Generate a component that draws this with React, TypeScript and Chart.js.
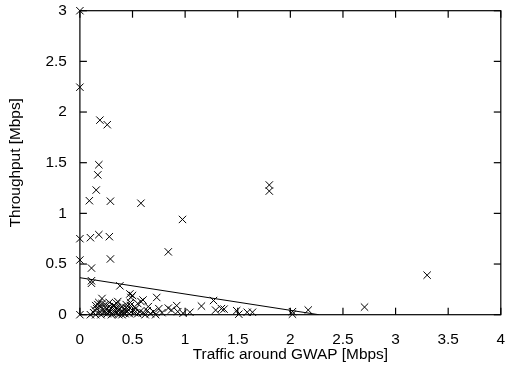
import React, { useEffect, useRef } from "react";
import { Chart, registerables } from "chart.js";

Chart.register(...registerables);

const traffic: number[] = [
  0, 0, 0.19, 0.26, 0.18, 0.17, 0.155, 0.09, 0.29, 0.58, 0.975, 1.8, 1.8,
  0, 0.1, 0.18, 0.28, 0.84, 0, 0.29, 0.11, 0.11, 0.11, 0.38, 0.475, 0.5,
  0.485, 0.73, 0.21, 0.58, 1.27, 1.155, 0.92, 1.29, 1.345, 1.37, 1.49, 1.51,
  1.59, 1.64, 2.02, 2.02, 2.17, 2.705, 3.3, 0, 0.87, 0.93, 0.98, 1.045, 0.75,
  0.84, 0.6, 0.14,
  0.15, 0.17, 0.16, 0.19, 0.2, 0.22, 0.23, 0.24, 0.25, 0.26, 0.27, 0.28, 0.29,
  0.3, 0.31, 0.32, 0.33, 0.34, 0.35, 0.36, 0.37, 0.38, 0.39, 0.4, 0.41, 0.42,
  0.43, 0.44, 0.45, 0.46, 0.47, 0.48, 0.5, 0.52, 0.53, 0.55, 0.57, 0.6, 0.62,
  0.64, 0.67, 0.7, 0.72, 0.78, 0.18, 0.13, 0.21, 0.35, 0.44, 0.48, 0.4, 0.3,
  0.2, 0.1, 0.15, 0.65, 0.55, 0.36, 0.28, 0.33,
];

const throughput: number[] = [
  3.0, 2.245, 1.92, 1.875, 1.48, 1.38, 1.23, 1.125, 1.12, 1.1, 0.94, 1.28, 1.22,
  0.75, 0.76, 0.79, 0.77, 0.62, 0.54, 0.55, 0.46, 0.335, 0.31, 0.285, 0.205, 0.19,
  0.17, 0.17, 0.16, 0.13, 0.14, 0.085, 0.09, 0.045, 0.06, 0.055, 0.04, 0.005,
  0.024, 0.024, 0.03, 0.005, 0.046, 0.075, 0.39, 0, 0.046, 0.03, 0.014, 0.024, 0.06,
  0.065, 0.145, 0.046,
  0.09, 0.1, 0.06, 0.03, 0.08, 0.05, 0.02, 0.1, 0.06, 0.01, 0.04, 0.08, 0.03,
  0.06, 0.01, 0.09, 0.05, 0.02, 0.07, 0.04, 0.0, 0.06, 0.03, 0.08, 0.02, 0.05,
  0.01, 0.07, 0.03, 0.05, 0.01, 0.09, 0.04, 0.02, 0.06, 0.01, 0.03, 0.02, 0.0,
  0.04, 0.01, 0.03, 0.0, 0.02, 0.12, 0.02, 0.11, 0.11, 0.1, 0.12, 0.0, 0.0,
  0.0, 0.0, 0.0, 0.08, 0.11, 0.13, 0.12, 0.03,
];

const fitX: number[] = [0, 2.27];
const fitY: number[] = [0.365, 0];

const xTicks: number[] = [0, 0.5, 1, 1.5, 2, 2.5, 3, 3.5, 4];
const yTicks: number[] = [0, 0.5, 1, 1.5, 2, 2.5, 3];

const FONT = "'Liberation Sans', Arial, Helvetica, sans-serif";
const FS = 15.4;

const frameTicks = {
  id: "frameTicks",
  afterDraw(chart: any) {
    const ctx: CanvasRenderingContext2D = chart.ctx;
    const area = chart.chartArea;
    const xs = chart.scales.x;
    const ys = chart.scales.y;
    const len = 7;
    ctx.save();
    ctx.strokeStyle = "#000";
    ctx.lineWidth = 1.2;
    for (let i = 0; i < xTicks.length; i++) {
      const px = xs.getPixelForValue(xTicks[i]);
      ctx.beginPath();
      ctx.moveTo(px, area.bottom);
      ctx.lineTo(px, area.bottom - len);
      ctx.stroke();
      ctx.beginPath();
      ctx.moveTo(px, area.top);
      ctx.lineTo(px, area.top + len);
      ctx.stroke();
    }
    for (let i = 0; i < yTicks.length; i++) {
      const py = ys.getPixelForValue(yTicks[i]);
      ctx.beginPath();
      ctx.moveTo(area.left, py);
      ctx.lineTo(area.left + len, py);
      ctx.stroke();
      ctx.beginPath();
      ctx.moveTo(area.right, py);
      ctx.lineTo(area.right - len, py);
      ctx.stroke();
    }
    ctx.strokeRect(area.left, area.top, area.right - area.left, area.bottom - area.top);
    ctx.restore();
  },
};

export default function App() {
  const ref = useRef<HTMLCanvasElement | null>(null);

  useEffect(() => {
    if (!ref.current) return;
    const points = traffic.map((x, i) => ({ x, y: throughput[i] }));
    const fit = fitX.map((x, i) => ({ x, y: fitY[i] }));
    const chart = new Chart(ref.current, {
      type: "scatter",
      data: {
        datasets: [
          {
            data: points,
            pointStyle: "crossRot",
            radius: 5.2,
            borderColor: "#000",
            backgroundColor: "#000",
            borderWidth: 1,
            showLine: false,
            clip: false,
          },
          {
            data: fit,
            showLine: true,
            pointRadius: 0,
            borderColor: "#000",
            borderWidth: 1,
          },
        ],
      },
      options: {
        animation: false,
        responsive: false,
        events: [],
        layout: { padding: { left: 0, right: 5.4, top: 10.7, bottom: 0 } },
        plugins: {
          legend: { display: false },
          tooltip: { enabled: false },
        },
        scales: {
          x: {
            type: "linear",
            min: 0,
            max: 4,
            afterBuildTicks: (s: any) => {
              s.ticks = xTicks.map((v) => ({ value: v }));
            },
            afterFit: (s: any) => {
              s.height = 50.3;
              s.paddingLeft = 0;
              s.paddingRight = 0;
            },
            grid: { display: false },
            border: { display: false },
            ticks: {
              color: "#000",
              padding: 8,
              maxRotation: 0,
              autoSkip: false,
              font: { family: FONT, size: FS },
              callback: (v: any) => String(v),
            },
            title: {
              display: true,
              text: "Traffic around GWAP [Mbps]",
              color: "#000",
              font: { family: FONT, size: FS },
              padding: { top: 0, bottom: 1 },
            },
          },
          y: {
            type: "linear",
            min: 0,
            max: 3,
            afterBuildTicks: (s: any) => {
              s.ticks = yTicks.map((v) => ({ value: v }));
            },
            afterFit: (s: any) => {
              s.width = 79.9;
              s.paddingTop = 0;
              s.paddingBottom = 0;
            },
            grid: { display: false },
            border: { display: false },
            ticks: {
              color: "#000",
              padding: 5,
              autoSkip: false,
              font: { family: FONT, size: FS },
              callback: (v: any) => String(v),
            },
            title: {
              display: true,
              text: "Throughput [Mbps]",
              color: "#000",
              font: { family: FONT, size: FS },
              padding: { top: 7, bottom: 0 },
            },
          },
        },
      },
      plugins: [frameTicks],
    });
    return () => chart.destroy();
  }, []);

  return (
    <div style={{ position: "absolute", left: 0, top: 0, width: 507, height: 365, background: "#fff" }}>
      <canvas ref={ref} width={507} height={365} style={{ width: 507, height: 365, display: "block" }} />
    </div>
  );
}
